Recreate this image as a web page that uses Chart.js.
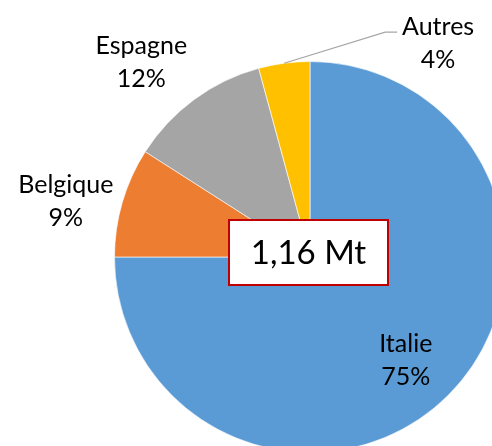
<!DOCTYPE html>
<html>
<head>
<meta charset="utf-8">
<script src="https://cdn.jsdelivr.net/npm/chart.js@4"></script>
<style>
  html, body { margin: 0; padding: 0; background: #fff; overflow: hidden; }
  #wrap { width: 492px; height: 446px; overflow: hidden; position: relative; }
  canvas { position: absolute; left: 0; top: 0; }
</style>
</head>
<body>
<div id="wrap"><canvas id="pie" width="520" height="470"></canvas></div>
<script>
// données (Mt)
var pays = ["Italie", "Belgique", "Espagne", "Autres"];
var tonnes = [0.87, 0.105, 0.136, 0.049];
var couleurs = ["#5B9BD5", "#ED7D31", "#A5A5A5", "#FFC000"];

// placement des étiquettes: rayon relatif + petit décalage
var labelRadius = [0.7, 1.28, 1.25, 1.0];
var labelNudge = [[-1, 6], [-4, 14], [-24, 2], [0, 0]];

var FONT = "Lato, 'Open Sans', sans-serif";

var total = tonnes.reduce(function(a, b) { return a + b; }, 0);

var labelPlugin = {
  id: 'sliceLabels',
  afterDatasetsDraw: function(chart) {
    var ctx = chart.ctx;
    var meta = chart.getDatasetMeta(0);
    ctx.save();
    ctx.font = "25px " + FONT;
    ctx.fillStyle = "#000";
    ctx.textAlign = "center";
    ctx.textBaseline = "middle";
    meta.data.forEach(function(arc, i) {
      var p = arc.getProps(['x', 'y', 'startAngle', 'endAngle', 'outerRadius'], true);
      var mid = (p.startAngle + p.endAngle) / 2;
      var pct = Math.round(tonnes[i] / total * 100) + "%";
      var tx, ty;
      if (i === 3) {
        // ligne de rappel pour "Autres"
        var sx = p.x + Math.cos(mid) * p.outerRadius;
        var sy = p.y + Math.sin(mid) * p.outerRadius;
        var ex = sx + 101, ey = sy - 31;
        ctx.strokeStyle = "#A6A6A6";
        ctx.lineWidth = 1.2;
        ctx.beginPath();
        ctx.moveTo(sx, sy);
        ctx.lineTo(ex, ey);
        ctx.lineTo(ex + 12, ey);
        ctx.stroke();
        tx = ex + 53; ty = ey + 11;
      } else {
        tx = p.x + Math.cos(mid) * p.outerRadius * labelRadius[i] + labelNudge[i][0];
        ty = p.y + Math.sin(mid) * p.outerRadius * labelRadius[i] + labelNudge[i][1];
      }
      ctx.fillText(pays[i], tx, ty - 16);
      ctx.fillText(pct, tx, ty + 17);
    });

    // encadré du total
    var c = meta.data[0];
    var bx = c.x - 1.5, by = c.y - 4.5;
    var w = 159, h = 65;
    ctx.fillStyle = "#fff";
    ctx.fillRect(bx - w / 2, by - h / 2, w, h);
    ctx.strokeStyle = "#C00000";
    ctx.lineWidth = 2;
    ctx.strokeRect(bx - w / 2, by - h / 2, w, h);
    ctx.fillStyle = "#000";
    ctx.font = "33px " + FONT;
    ctx.fillText(total.toFixed(2).replace(".", ",") + " Mt", bx, by + 1);
    ctx.restore();
  }
};

var chart = new Chart(document.getElementById("pie").getContext("2d"), {
  type: "pie",
  data: {
    labels: pays,
    datasets: [{
      data: tonnes,
      backgroundColor: couleurs,
      borderColor: "rgba(255,255,255,0.6)",
      borderWidth: 1
    }]
  },
  options: {
    responsive: false,
    animation: false,
    layout: { padding: { left: 114, top: 61, right: 14, bottom: 17 } },
    plugins: {
      legend: { display: false },
      tooltip: { enabled: false }
    }
  },
  plugins: [labelPlugin]
});
</script>
</body>
</html>
